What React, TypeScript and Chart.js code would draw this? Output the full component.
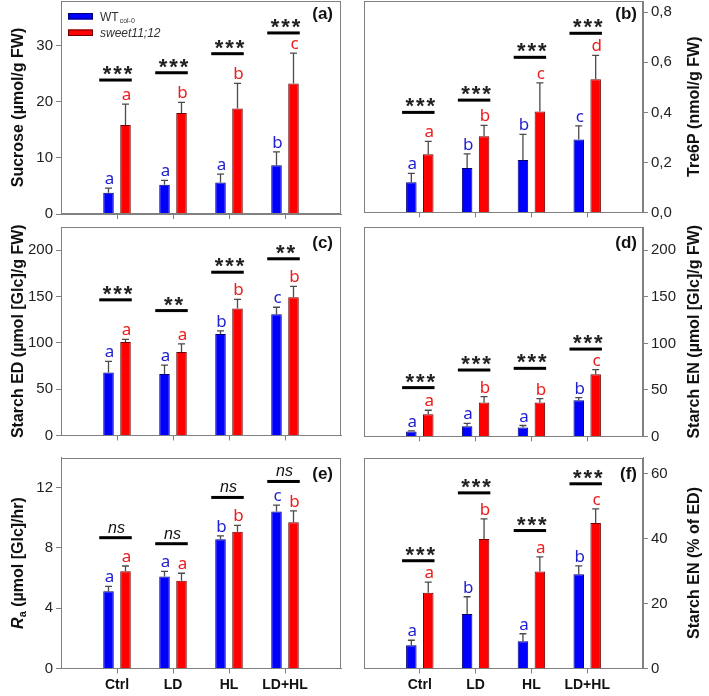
import React, { useEffect, useRef } from 'react';
import { Chart, registerables } from 'chart.js';
Chart.register(...registerables);

const W = 709;
const H = 696;

// ---------- data ----------
const categories = ['Ctrl', 'LD', 'HL', 'LD+HL'];
const axisLabels = ['', ...categories, ''];

// (a) Sucrose
const sucroseWT = [3.8, 5.2, 5.6, 8.7];
const sucroseWTErr = [0.8, 0.8, 1.5, 2.4];
const sucroseMut = [15.9, 18.0, 18.8, 23.3];
const sucroseMutErr = [3.7, 1.9, 4.5, 5.4];
const sucroseWTLetters = ['a', 'a', 'a', 'b'];
const sucroseMutLetters = ['a', 'b', 'b', 'c'];
const sucroseSig = [23.9, 25.2, 28.6, 32.3];
const sucroseSigText = ['***', '***', '***', '***'];

// (b) Tre6P
const tre6pWT = [0.121, 0.178, 0.21, 0.292];
const tre6pWTErr = [0.035, 0.056, 0.102, 0.054];
const tre6pMut = [0.233, 0.305, 0.404, 0.532];
const tre6pMutErr = [0.051, 0.043, 0.114, 0.096];
const tre6pWTLetters = ['a', 'b', 'b', 'c'];
const tre6pMutLetters = ['a', 'b', 'c', 'd'];
const tre6pSig = [0.4, 0.449, 0.62, 0.716];
const tre6pSigText = ['***', '***', '***', '***'];

// (c) Starch ED
const starchEDWT = [68, 66.4, 109.6, 130.8];
const starchEDWTErr = [12, 9.6, 3.3, 7.6];
const starchEDMut = [101, 90.2, 137, 149.2];
const starchEDMutErr = [2.8, 8.6, 10, 11.8];
const starchEDWTLetters = ['a', 'a', 'b', 'c'];
const starchEDMutLetters = ['a', 'a', 'b', 'b'];
const starchEDSig = [146.4, 134.8, 176.2, 190.7];
const starchEDSigText = ['***', '**', '***', '**'];

// (d) Starch EN
const starchENWT = [5.4, 11, 9.6, 38.9];
const starchENWTErr = [0.6, 3, 2.2, 2.9];
const starchENMut = [23.9, 36.4, 36.4, 66.8];
const starchENMutErr = [4.3, 6.5, 4.3, 5];
const starchENWTLetters = ['a', 'a', 'a', 'b'];
const starchENMutLetters = ['a', 'b', 'b', 'c'];
const starchENSig = [52.5, 71.4, 73.2, 93.9];
const starchENSigText = ['***', '***', '***', '***'];

// (e) Ra
const raWT = [5.13, 6.1, 8.58, 10.42];
const raWTErr = [0.32, 0.35, 0.22, 0.42];
const raMut = [6.45, 5.82, 9.07, 9.71];
const raMutErr = [0.35, 0.5, 0.42, 0.75];
const raWTLetters = ['a', 'a', 'b', 'c'];
const raMutLetters = ['a', 'a', 'b', 'b'];
const raSig = [8.68, 8.28, 11.35, 12.41];
const raSigText = ['ns', 'ns', 'ns', 'ns'];

// (f) Starch EN % of ED
const pctWT = [7.2, 16.8, 8.4, 29.0];
const pctWTErr = [1.5, 5.3, 2.3, 2.6];
const pctMut = [23.3, 39.9, 29.9, 44.8];
const pctMutErr = [3.3, 6.2, 4.5, 4.4];
const pctWTLetters = ['a', 'b', 'a', 'b'];
const pctMutLetters = ['a', 'b', 'a', 'c'];
const pctSig = [33.2, 54.1, 42.5, 56.9];
const pctSigText = ['***', '***', '***', '***'];

const legendLabels = ['WT', 'sweet11;12'];

// ---------- style ----------
const SANS = '"Liberation Sans", Arial, sans-serif';
const LETTER_FONT = '"Noto Sans", "Open Sans", sans-serif';
const FRAME = '#808080';
const BLUE = '#0000FF';
const BLUE_EDGE = '#000070';
const RED = '#FF0000';
const RED_EDGE = '#700000';
const BLUE_TXT = '#1f1fcf';
const RED_TXT = '#ee1c1c';
const ERR = '#4a4a4a';
const Y_W = 45;
const X_H = 26;

type Area = { left: number; right: number; top: number; bottom: number };
type Panel = {
  key: string;
  side: 'left' | 'right';
  area: Area;
  max: number;
  step: number;
  comma?: boolean;
  title: string;
  wt: number[]; wtErr: number[]; mut: number[]; mutErr: number[];
  wtLetters: string[]; mutLetters: string[];
  sig: number[]; sigText: string[];
  showX: boolean;
  legend?: boolean;
  labelDy: number;
};

const panels: Panel[] = [
  { key: 'a', side: 'left', area: { left: 61, right: 341, top: 1, bottom: 214 }, max: 38, step: 10,
    title: 'Sucrose (µmol/g FW)', wt: sucroseWT, wtErr: sucroseWTErr, mut: sucroseMut, mutErr: sucroseMutErr,
    wtLetters: sucroseWTLetters, mutLetters: sucroseMutLetters, sig: sucroseSig, sigText: sucroseSigText,
    showX: false, legend: true, labelDy: 18 },
  { key: 'b', side: 'right', area: { left: 364, right: 643, top: 1, bottom: 212.5 }, max: 0.845, step: 0.2, comma: true,
    title: 'Tre6P (nmol/g FW)', wt: tre6pWT, wtErr: tre6pWTErr, mut: tre6pMut, mutErr: tre6pMutErr,
    wtLetters: tre6pWTLetters, mutLetters: tre6pMutLetters, sig: tre6pSig, sigText: tre6pSigText,
    showX: false, labelDy: 17.5 },
  { key: 'c', side: 'left', area: { left: 61, right: 341, top: 227, bottom: 435.5 }, max: 225, step: 50,
    title: 'Starch ED (µmol [Glc]/g FW)', wt: starchEDWT, wtErr: starchEDWTErr, mut: starchEDMut, mutErr: starchEDMutErr,
    wtLetters: starchEDWTLetters, mutLetters: starchEDMutLetters, sig: starchEDSig, sigText: starchEDSigText,
    showX: false, labelDy: 21 },
  { key: 'd', side: 'right', area: { left: 364, right: 643, top: 227, bottom: 436.5 }, max: 225, step: 50,
    title: 'Starch EN (µmol [Glc]/g FW)', wt: starchENWT, wtErr: starchENWTErr, mut: starchENMut, mutErr: starchENMutErr,
    wtLetters: starchENWTLetters, mutLetters: starchENMutLetters, sig: starchENSig, sigText: starchENSigText,
    showX: false, labelDy: 21 },
  { key: 'e', side: 'left', area: { left: 61, right: 341, top: 457.5, bottom: 668.5 }, max: 14, step: 4,
    title: 'Ra', wt: raWT, wtErr: raWTErr, mut: raMut, mutErr: raMutErr,
    wtLetters: raWTLetters, mutLetters: raMutLetters, sig: raSig, sigText: raSigText,
    showX: true, labelDy: 21.5 },
  { key: 'f', side: 'right', area: { left: 364, right: 643, top: 457.5, bottom: 668.5 }, max: 65, step: 20,
    title: 'Starch EN (% of ED)', wt: pctWT, wtErr: pctWTErr, mut: pctMut, mutErr: pctMutErr,
    wtLetters: pctWTLetters, mutLetters: pctMutLetters, sig: pctSig, sigText: pctSigText,
    showX: true, labelDy: 21.5 },
];

function overlay(p: Panel) {
  return {
    id: 'overlay_' + p.key,
    afterDatasetsDraw(chart: any) {
      const ctx: CanvasRenderingContext2D = chart.ctx;
      const { left, right, top, bottom } = chart.chartArea;
      const ys = chart.scales.y;
      ctx.save();
      // frame
      ctx.strokeStyle = FRAME;
      ctx.lineWidth = 1;
      ctx.strokeRect(Math.round(left) + 0.5, Math.round(top) + 0.5, Math.round(right - left) - 1, Math.round(bottom - top) - 1);

      // error bars + letters
      const sets: [number[], number[], string[], string][] = [
        [p.wt, p.wtErr, p.wtLetters, BLUE_TXT],
        [p.mut, p.mutErr, p.mutLetters, RED_TXT],
      ];
      sets.forEach(([vals, errs, letters, col], di) => {
        const meta = chart.getDatasetMeta(di);
        vals.forEach((v, i) => {
          const bar = meta.data[i + 1];
          const x = bar.x;
          const yTop = ys.getPixelForValue(v + errs[i]);
          ctx.strokeStyle = ERR;
          ctx.lineWidth = 1.3;
          ctx.beginPath();
          ctx.moveTo(x, bar.y);
          ctx.lineTo(x, yTop);
          ctx.moveTo(x - 3.5, yTop);
          ctx.lineTo(x + 3.5, yTop);
          ctx.stroke();
          ctx.fillStyle = col;
          ctx.font = '17px ' + LETTER_FONT;
          ctx.textAlign = 'center';
          ctx.textBaseline = 'alphabetic';
          ctx.fillText(letters[i], x + 1, yTop - 4);
        });
      });

      // significance bars
      const m0 = chart.getDatasetMeta(0);
      const m1 = chart.getDatasetMeta(1);
      p.sig.forEach((s, i) => {
        const b0 = m0.data[i + 1];
        const b1 = m1.data[i + 1];
        const x0 = b0.x - b0.width / 2 - 4;
        const x1 = b1.x + b1.width / 2 + 1;
        const yy = ys.getPixelForValue(s);
        ctx.fillStyle = '#000';
        ctx.fillRect(x0, yy - 1.5, x1 - x0, 3);
        const cx = (x0 + x1) / 2;
        const txt = p.sigText[i];
        if (txt === 'ns') {
          ctx.font = 'italic 16px ' + SANS;
          ctx.fillStyle = '#111';
          ctx.textAlign = 'center';
          ctx.textBaseline = 'alphabetic';
          ctx.fillText('ns', cx + 1, yy - 5);
        } else {
          ctx.font = 'bold 22px ' + SANS;
          ctx.fillStyle = '#222';
          ctx.textAlign = 'center';
          ctx.textBaseline = 'alphabetic';
          const n = txt.length;
          for (let k = 0; k < n; k++) {
            ctx.fillText('*', cx + 2 + (k - (n - 1) / 2) * 10.5, yy + 1);
          }
        }
      });

      // panel label
      ctx.font = 'bold 17px ' + SANS;
      ctx.fillStyle = '#111';
      ctx.textAlign = 'right';
      ctx.textBaseline = 'alphabetic';
      ctx.fillText('(' + p.key + ')', right - (p.side === 'left' ? 8 : 6), top + p.labelDy);

      // axis title
      const tx = p.side === 'left' ? 19 : 695;
      const ty = (top + bottom) / 2;
      ctx.save();
      ctx.translate(tx, ty);
      ctx.rotate(-Math.PI / 2);
      ctx.fillStyle = '#111';
      ctx.textBaseline = 'middle';
      if (p.title === 'Ra') {
        const f1 = 'italic bold 16px ' + SANS;
        const f2 = 'bold 11px ' + SANS;
        const f3 = 'bold 16px ' + SANS;
        const rest = ' (µmol [Glc]/hr)';
        ctx.font = f1; const w1 = ctx.measureText('R').width;
        ctx.font = f2; const w2 = ctx.measureText('a').width;
        ctx.font = f3; const w3 = ctx.measureText(rest).width;
        let sx = -(w1 + w2 + w3) / 2;
        ctx.textAlign = 'left';
        ctx.font = f1; ctx.fillText('R', sx, 0); sx += w1;
        ctx.font = f2; ctx.fillText('a', sx, 4); sx += w2;
        ctx.font = f3; ctx.fillText(rest, sx, 0);
      } else {
        ctx.font = 'bold 16px ' + SANS;
        ctx.textAlign = 'center';
        ctx.fillText(p.title, 0, 0);
      }
      ctx.restore();

      // legend
      if (p.legend) {
        const lx = left + 7;
        const items: [string, string][] = [[BLUE, BLUE_EDGE], [RED, RED_EDGE]];
        items.forEach(([fill, edge], k) => {
          const by = top + 12 + k * 16.5;
          ctx.fillStyle = fill;
          ctx.fillRect(lx, by, 25, 6.5);
          ctx.strokeStyle = edge;
          ctx.lineWidth = 1;
          ctx.strokeRect(lx + 0.5, by + 0.5, 24, 5.5);
        });
        ctx.fillStyle = '#333';
        ctx.textAlign = 'left';
        ctx.textBaseline = 'alphabetic';
        ctx.font = '12px ' + SANS;
        ctx.fillText(legendLabels[0], lx + 32, top + 19.5);
        const wtW = ctx.measureText(legendLabels[0]).width;
        ctx.font = '7px ' + SANS;
        ctx.fillText('col-0', lx + 32 + wtW + 1, top + 21.5);
        ctx.font = 'italic 12px ' + SANS;
        ctx.fillText(legendLabels[1], lx + 32, top + 36);
      }
      ctx.restore();
    },
  };
}

function buildChart(canvas: HTMLCanvasElement, p: Panel) {
  const a = p.area;
  const padding = p.side === 'left'
    ? { left: a.left - Y_W, right: W - a.right, top: a.top, bottom: H - a.bottom - X_H }
    : { left: a.left, right: W - a.right - Y_W, top: a.top, bottom: H - a.bottom - X_H };
  return new Chart(canvas, {
    type: 'bar',
    data: {
      labels: axisLabels,
      datasets: [
        { label: legendLabels[0], data: [null, ...p.wt, null], backgroundColor: BLUE, borderColor: BLUE_EDGE,
          borderWidth: 1, categoryPercentage: 0.607, barPercentage: 0.62 },
        { label: legendLabels[1], data: [null, ...p.mut, null], backgroundColor: RED, borderColor: RED_EDGE,
          borderWidth: 1, categoryPercentage: 0.607, barPercentage: 0.62 },
      ],
    },
    options: {
      responsive: false,
      animation: false,
      devicePixelRatio: 1,
      layout: { padding },
      plugins: { legend: { display: false }, tooltip: { enabled: false } },
      scales: {
        x: {
          type: 'category',
          offset: false,
          grid: {
            offset: false, drawOnChartArea: false, drawTicks: true, tickLength: 5,
            color: (c: any) => (c.index === 0 || c.index === axisLabels.length - 1 ? 'rgba(0,0,0,0)' : FRAME),
          },
          border: { display: true, color: FRAME },
          ticks: { display: p.showX, autoSkip: false, maxRotation: 0, padding: 3, color: '#111',
            font: { family: SANS, size: 14, weight: 'bold' } },
          afterFit: (s: any) => { s.height = X_H; s.paddingLeft = 0; s.paddingRight = 0; },
        },
        y: {
          type: 'linear',
          position: p.side,
          min: 0,
          max: p.max,
          grid: { drawOnChartArea: false, drawTicks: true, tickLength: 5, color: FRAME },
          border: { display: true, color: FRAME },
          ticks: {
            stepSize: p.step, includeBounds: false, padding: 3, color: '#222',
            font: { family: SANS, size: 15 },
            callback: (v: any) => (p.comma ? Number(v).toFixed(1).replace('.', ',') : String(Math.round(Number(v)))),
          },
          afterFit: (s: any) => { s.width = Y_W; s.paddingTop = 0; s.paddingBottom = 0; },
        },
      },
    } as any,
    plugins: [overlay(p)],
  });
}

function PanelCanvas({ p }: { p: Panel }) {
  const ref = useRef<HTMLCanvasElement | null>(null);
  useEffect(() => {
    if (!ref.current) return;
    const chart = buildChart(ref.current, p);
    return () => chart.destroy();
  }, [p]);
  return (
    <canvas
      ref={ref}
      width={W}
      height={H}
      style={{ position: 'absolute', left: 0, top: 0, width: W, height: H }}
    />
  );
}

export default function App() {
  return (
    <div style={{ position: 'absolute', left: 0, top: 0, width: W, height: H, background: '#fff', overflow: 'hidden' }}>
      {panels.map((p) => (
        <PanelCanvas key={p.key} p={p} />
      ))}
    </div>
  );
}
